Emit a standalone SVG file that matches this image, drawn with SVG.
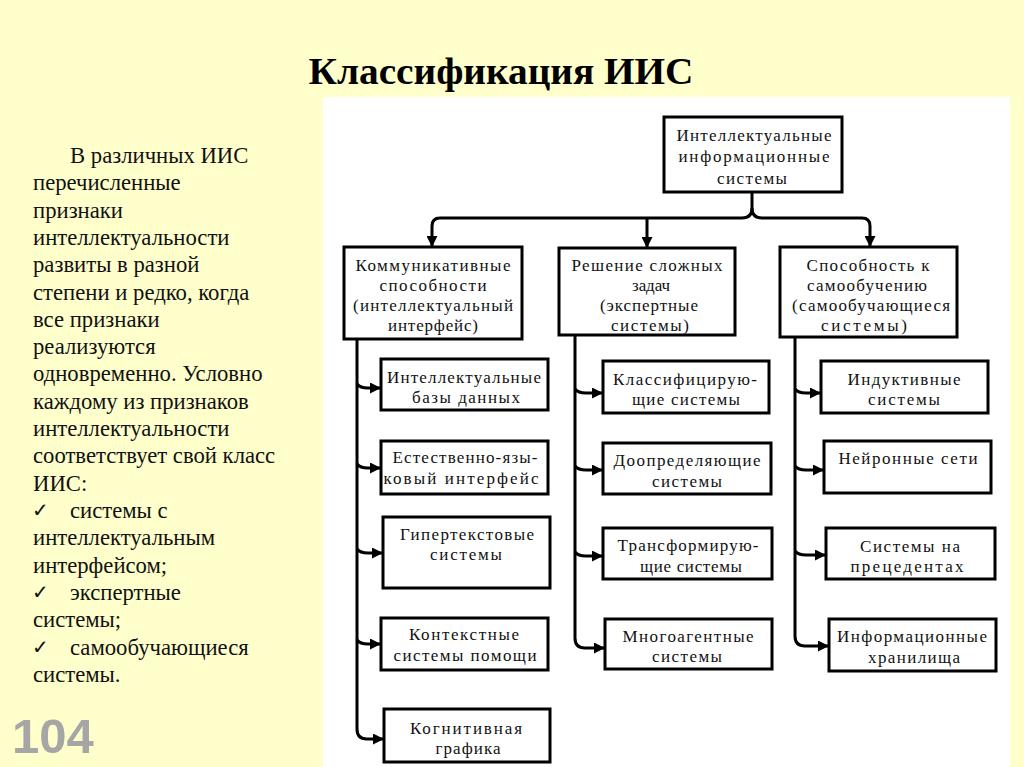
<svg xmlns="http://www.w3.org/2000/svg" width="1024" height="767" viewBox="0 0 1024 767">
<style>
.bx{fill:#fff;stroke:#000;stroke-width:3}
.bt{font-family:"Liberation Serif","Times New Roman",serif;font-size:17px;fill:#111;text-anchor:middle}
.ln{fill:none;stroke:#000;stroke-width:3}
.lt{font-family:"Liberation Serif","Times New Roman",serif;font-size:22.7px;fill:#111}
.ck{font-family:"DejaVu Sans",sans-serif;font-size:20px;font-weight:bold;fill:#111}
</style>
<defs>
<marker id="ar" markerUnits="userSpaceOnUse" markerWidth="12" markerHeight="11" refX="11" refY="5.5" orient="auto">
<path d="M0,0 L11,5.5 L0,11 z" fill="#000"/>
</marker>
</defs>
<rect x="0" y="0" width="1024" height="767" fill="#FFFFCC"/>
<rect x="323" y="97" width="687" height="670" fill="#FFFFFF"/>
<text x="501" y="84" font-family="Liberation Serif, Times New Roman, serif" font-size="38" font-weight="bold" text-anchor="middle" textLength="385" lengthAdjust="spacingAndGlyphs" fill="#000">Классификация ИИС</text>
<g id="left-text">
<text class="lt" x="70" y="163">В различных ИИС</text>
<text class="lt" x="33" y="190">перечисленные</text>
<text class="lt" x="33" y="218">признаки</text>
<text class="lt" x="33" y="245">интеллектуальности</text>
<text class="lt" x="33" y="272">развиты в разной</text>
<text class="lt" x="33" y="300">степени и редко, когда</text>
<text class="lt" x="33" y="327">все признаки</text>
<text class="lt" x="33" y="354">реализуются</text>
<text class="lt" x="33" y="381">одновременно. Условно</text>
<text class="lt" x="33" y="409">каждому из признаков</text>
<text class="lt" x="33" y="436">интеллектуальности</text>
<text class="lt" x="33" y="463">соответствует свой класс</text>
<text class="lt" x="33" y="491">ИИС:</text>
<text class="ck" x="32" y="517">✓</text><text class="lt" x="70" y="518">системы с</text>
<text class="lt" x="33" y="545">интеллектуальным</text>
<text class="lt" x="33" y="573">интерфейсом;</text>
<text class="ck" x="32" y="599">✓</text><text class="lt" x="70" y="600">экспертные</text>
<text class="lt" x="33" y="627">системы;</text>
<text class="ck" x="32" y="654">✓</text><text class="lt" x="70" y="655">самообучающиеся</text>
<text class="lt" x="33" y="682">системы.</text>
</g>
<text x="12" y="753" font-family="Liberation Sans, Arial, sans-serif" font-size="49" font-weight="bold" fill="#A6A6A6">104</text>
<g id="connectors">
<path class="ln" d="M752,192 L752,208"/>
<path class="ln" d="M752,208 Q752,218 742,218 L440,218 Q432,218 432,226 L432,247" marker-end="url(#ar)"/>
<path class="ln" d="M752,208 Q752,218 762,218 L862,218 Q870,218 870,226 L870,247" marker-end="url(#ar)"/>
<path class="ln" d="M647,218 L647,248" marker-end="url(#ar)"/>
<path class="ln" d="M357,339 L357,729 Q357,739 367,739 L384,739" marker-end="url(#ar)"/>
<path class="ln" d="M357,384 Q360,388 368,388 L381,388" marker-end="url(#ar)"/>
<path class="ln" d="M357,464 Q360,468 368,468 L381,468" marker-end="url(#ar)"/>
<path class="ln" d="M357,549 Q360,553 368,553 L383,553" marker-end="url(#ar)"/>
<path class="ln" d="M357,640 Q360,644 368,644 L381,644" marker-end="url(#ar)"/>
<path class="ln" d="M575,335 L575,638 Q575,648 585,648 L605,648" marker-end="url(#ar)"/>
<path class="ln" d="M575,389 Q578,393 586,393 L603,393" marker-end="url(#ar)"/>
<path class="ln" d="M575,466 Q578,470 586,470 L603,470" marker-end="url(#ar)"/>
<path class="ln" d="M575,552 Q578,556 586,556 L603,556" marker-end="url(#ar)"/>
<path class="ln" d="M795,337 L795,636 Q795,646 805,646 L829,646" marker-end="url(#ar)"/>
<path class="ln" d="M795,389 Q798,393 806,393 L821,393" marker-end="url(#ar)"/>
<path class="ln" d="M795,466 Q798,470 806,470 L824,470" marker-end="url(#ar)"/>
<path class="ln" d="M795,551 Q798,555 806,555 L826,555" marker-end="url(#ar)"/>
</g>
<g id="n-root">
<rect class="bx" x="664" y="117" width="178" height="75"/>
<text class="bt" x="754" y="141" textLength="155">Интеллектуальные</text>
<text class="bt" x="754" y="162" textLength="151">информационные</text>
<text class="bt" x="752" y="184" textLength="70">системы</text>
</g>
<g id="n-comm">
<rect class="bx" x="344" y="247" width="178" height="92"/>
<text class="bt" x="433" y="271" textLength="155">Коммуникативные</text>
<text class="bt" x="433" y="291" textLength="107">способности</text>
<text class="bt" x="433" y="311" textLength="160">(интеллектуальный</text>
<text class="bt" x="433" y="331" textLength="90">интерфейс)</text>
</g>
<g id="n-solve">
<rect class="bx" x="559" y="248" width="176" height="87"/>
<text class="bt" x="647" y="271" textLength="151">Решение сложных</text>
<text class="bt" x="651" y="291" textLength="38">задач</text>
<text class="bt" x="649" y="311" textLength="98">(экспертные</text>
<text class="bt" x="650" y="331" textLength="78">системы)</text>
</g>
<g id="n-learn">
<rect class="bx" x="780" y="247" width="177" height="90"/>
<text class="bt" x="868" y="271" textLength="123">Способность к</text>
<text class="bt" x="867" y="291" textLength="120">самообучению</text>
<text class="bt" x="871" y="311" textLength="158">(самообучающиеся</text>
<text class="bt" x="864" y="331" textLength="86">системы)</text>
</g>
<g id="n-kb">
<rect class="bx" x="381" y="359" width="167" height="51"/>
<text class="bt" x="464" y="383" textLength="154">Интеллектуальные</text>
<text class="bt" x="466" y="403" textLength="108">базы данных</text>
</g>
<g id="n-nli">
<rect class="bx" x="381" y="441" width="167" height="53"/>
<text class="bt" x="465" y="463" textLength="145">Естественно-язы-</text>
<text class="bt" x="461" y="484" textLength="155">ковый интерфейс</text>
</g>
<g id="n-hyper">
<rect class="bx" x="383" y="517" width="167" height="71"/>
<text class="bt" x="467" y="540" textLength="134">Гипертекстовые</text>
<text class="bt" x="466" y="560" textLength="72">системы</text>
</g>
<g id="n-ctx">
<rect class="bx" x="381" y="618" width="167" height="52"/>
<text class="bt" x="464" y="640" textLength="110">Контекстные</text>
<text class="bt" x="465" y="661" textLength="143">системы помощи</text>
</g>
<g id="n-cog">
<rect class="bx" x="384" y="709" width="166" height="53"/>
<text class="bt" x="466" y="734" textLength="112">Когнитивная</text>
<text class="bt" x="468" y="754" textLength="65">графика</text>
</g>
<g id="n-class">
<rect class="bx" x="603" y="361" width="166" height="52"/>
<text class="bt" x="685" y="385" textLength="144">Классифицирую-</text>
<text class="bt" x="686" y="405" textLength="108">щие системы</text>
</g>
<g id="n-def">
<rect class="bx" x="603" y="443" width="168" height="51"/>
<text class="bt" x="687" y="466" textLength="147">Доопределяющие</text>
<text class="bt" x="687" y="487" textLength="70">системы</text>
</g>
<g id="n-trans">
<rect class="bx" x="603" y="528" width="169" height="51"/>
<text class="bt" x="688" y="551" textLength="141">Трансформирую-</text>
<text class="bt" x="691" y="572" textLength="102">щие системы</text>
</g>
<g id="n-multi">
<rect class="bx" x="605" y="619" width="167" height="50"/>
<text class="bt" x="688" y="642" textLength="131">Многоагентные</text>
<text class="bt" x="687" y="662" textLength="70">системы</text>
</g>
<g id="n-induct">
<rect class="bx" x="821" y="361" width="167" height="52"/>
<text class="bt" x="904" y="385" textLength="113">Индуктивные</text>
<text class="bt" x="904" y="405" textLength="72">системы</text>
</g>
<g id="n-neural">
<rect class="bx" x="824" y="441" width="167" height="52"/>
<text class="bt" x="908" y="464" textLength="139">Нейронные сети</text>
</g>
<g id="n-case">
<rect class="bx" x="826" y="528" width="169" height="51"/>
<text class="bt" x="910" y="552" textLength="100">Системы на</text>
<text class="bt" x="907" y="572" textLength="113">прецедентах</text>
</g>
<g id="n-store">
<rect class="bx" x="829" y="619" width="167" height="52"/>
<text class="bt" x="912" y="642" textLength="150">Информационные</text>
<text class="bt" x="914" y="663" textLength="92">хранилища</text>
</g>
</svg>
